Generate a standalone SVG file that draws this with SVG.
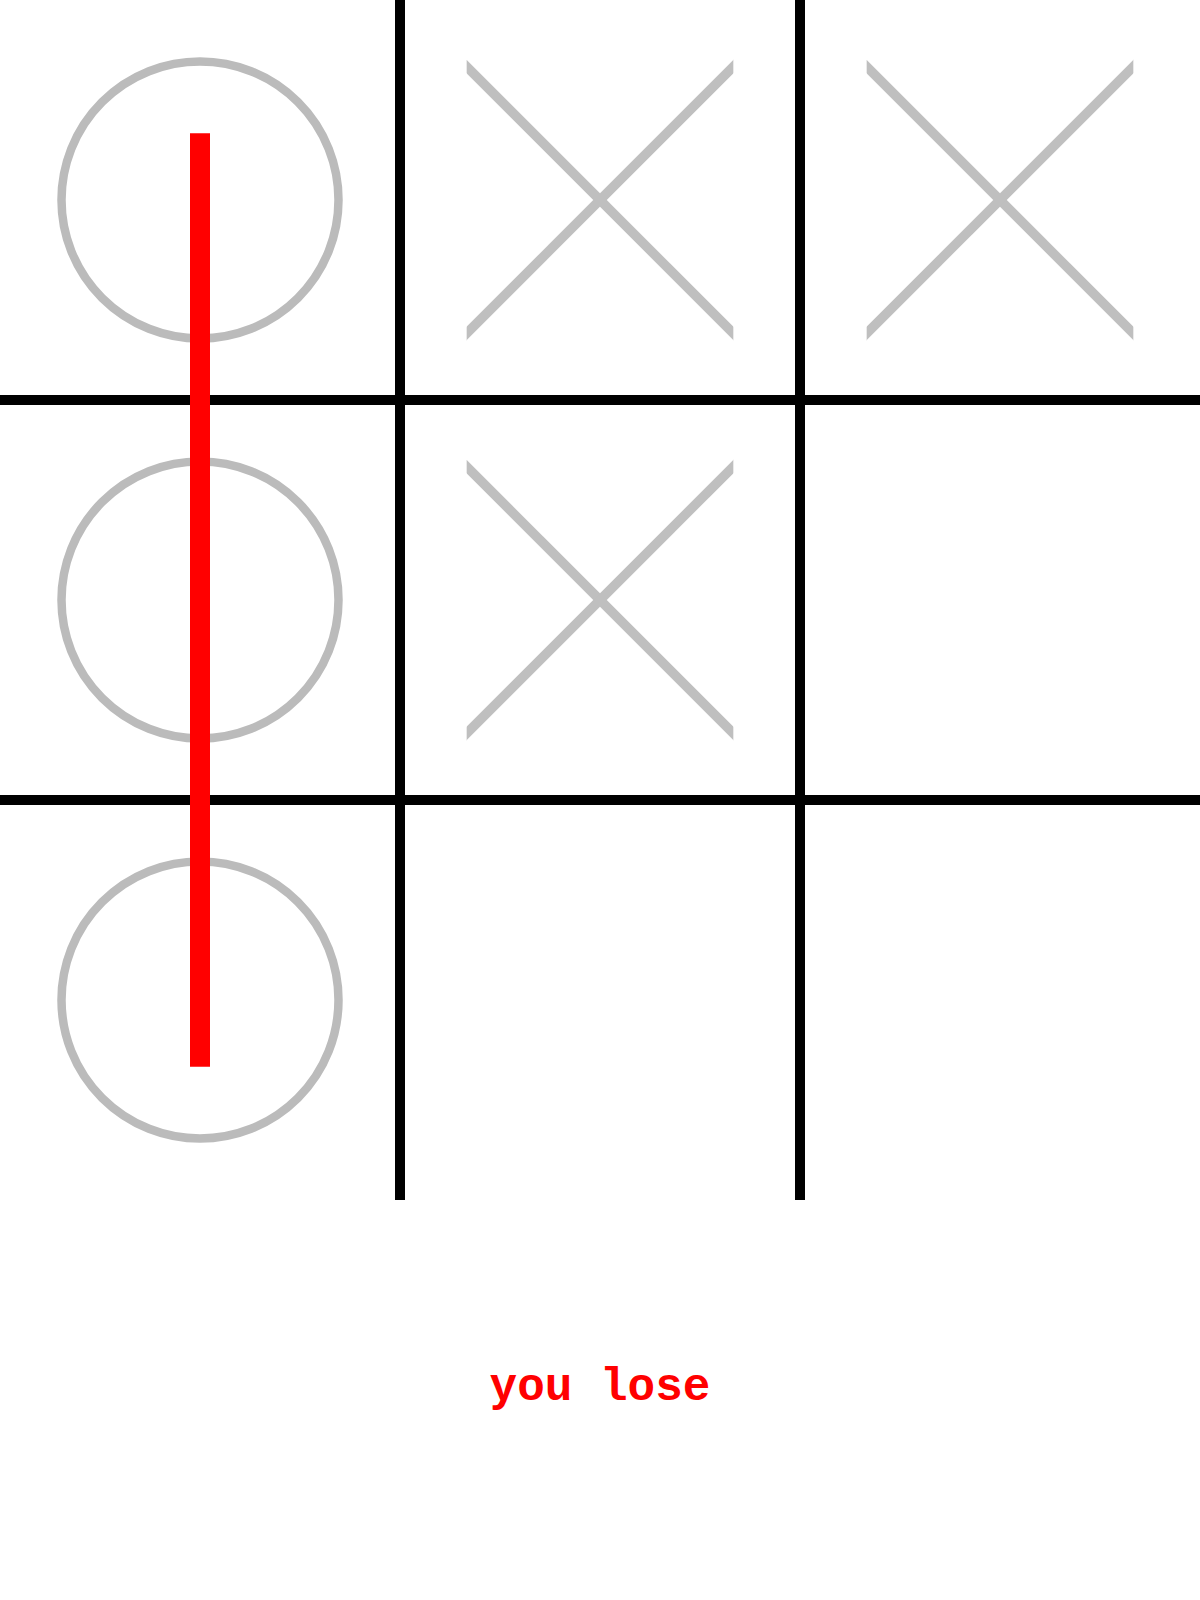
<svg xmlns="http://www.w3.org/2000/svg" width="1200" height="1600" viewBox="0 0 1200 1600">
<style>
.grid{stroke:#000;stroke-width:10}
.o{fill:none;stroke:#bbb;stroke-width:8.5}
.x{stroke:#bfbfbf;stroke-width:9.5}
.win{stroke:#f00;stroke-width:20}
.msg{font-family:"Courier New",Courier,"Nimbus Mono PS","Nimbus Mono L",FreeMono,"Liberation Mono",monospace;font-weight:bold;font-size:46px;fill:#f00}
</style>
<defs>
<clipPath id="xc"><rect x="66.67" y="0" width="266.66" height="400"/></clipPath>
<g id="xmark" clip-path="url(#xc)">
<line class="x" x1="50" y1="50" x2="350" y2="350"/>
<line class="x" x1="50" y1="350" x2="350" y2="50"/>
</g>
</defs>
<rect width="1200" height="1600" fill="#fff"/>
<g id="grid">
<line class="grid" x1="400" y1="0" x2="400" y2="1200"/>
<line class="grid" x1="800" y1="0" x2="800" y2="1200"/>
<line class="grid" x1="0" y1="400" x2="1200" y2="400"/>
<line class="grid" x1="0" y1="800" x2="1200" y2="800"/>
</g>
<g id="o1"><circle class="o" cx="200" cy="200" r="138.5"/></g>
<g id="o2"><circle class="o" cx="200" cy="600" r="138.5"/></g>
<g id="o3"><circle class="o" cx="200" cy="1000" r="138.5"/></g>
<g id="x1"><use href="#xmark" x="400" y="0"/></g>
<g id="x2"><use href="#xmark" x="800" y="0"/></g>
<g id="x3"><use href="#xmark" x="400" y="400"/></g>
<g id="winline"><line class="win" x1="200" y1="133.33" x2="200" y2="1066.67"/></g>
<text class="msg" x="600" y="1400" text-anchor="middle">you lose</text>
</svg>
